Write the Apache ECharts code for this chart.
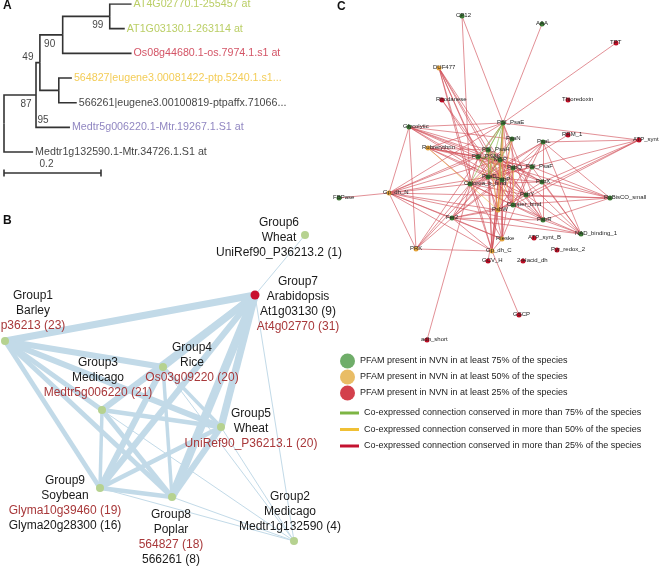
<!DOCTYPE html>
<html><head><meta charset="utf-8">
<script src="https://cdn.jsdelivr.net/npm/echarts@6.0.0/dist/echarts.min.js"></script>
<style>html,body{margin:0;padding:0;background:#fff}#c{width:662px;height:567px}</style>
</head><body><div id="c"></div>
<script>
// ---------- Panel A: phylogenetic tree (branch lengths) ----------
const treeNames = ['root','n87','Medtr1g132590.1-Mtr.34726.1.S1 at','n49','Medtr5g006220.1-Mtr.19267.1.S1 at','n90','nPop',
  '564827|eugene3.00081422-ptp.5240.1.s1...','566261|eugene3.00100819-ptpaffx.71066...','n99',
  'Os08g44680.1-os.7974.1.s1 at','AT4G02770.1-255457 at','AT1G03130.1-263114 at'];
const treeParent = [-1,0,0,1,1,3,3,6,6,5,5,9,9];
const treeBranch = [0,0.066,0.060,0.008,0.070,0.047,0.039,0.027,0.037,0.097,0.142,0.045,0.031];
const leafRow    = [null,null,6,null,5,null,null,3,4,null,2,0,1];
const bootNode   = [9,5,3,1,1];
const bootValue  = [99,90,49,87,95];
const scaleBarLength = 0.2;
const scaleBarLabel = '0.2';

// ---------- Panel B: group network ----------
const bNames   = ['Group1','Group2','Group3','Group4','Group5','Group6','Group7','Group8','Group9'];
const bSpecies = ['Barley','Medicago','Medicago','Rice','Wheat','Wheat','Arabidopsis','Poplar','Soybean'];
const bGenes = [
  [['p36213 (23)',1]],
  [['Medtr1g132590 (4)',0]],
  [['Medtr5g006220 (21)',1]],
  [['Os03g09220 (20)',1]],
  [['UniRef90_P36213.1 (20)',1]],
  [['UniRef90_P36213.2 (1)',0]],
  [['At1g03130 (9)',0],['At4g02770 (31)',1]],
  [['564827 (18)',1],['566261 (8)',0]],
  [['Glyma10g39460 (19)',1],['Glyma20g28300 (16)',0]]
];
const bQuery = [0,0,0,0,0,0,1,0,0];
const bPosX = [5,294,102,163,221,305,255,172,100];
const bPosY = [341,541,410,367,427,235,295,497,488];
const bLinks = [ // [group a, group b, strength]
  [1,7,6],[1,4,5],[1,3,4],[1,5,5],[1,9,4],[1,8,4],
  [7,4,6],[7,3,5],[7,5,6],[7,9,5],[7,8,7],[7,6,1],[7,2,1],
  [4,3,3],[4,5,3],[4,9,5],[4,8,3],
  [3,5,4],[3,9,3],[3,8,4],
  [5,9,4],[5,8,5],
  [9,8,4],
  [2,5,1],[2,8,1],[2,9,1],[2,3,1],[2,4,1]
];

// ---------- Panel C: PFAM network ----------
const cNames = ['CP12','AAA','TPT','DUF477','Rhodanese','Thioredoxin','PSI_PsaE','Glycolytic','RRM_1','ATP_synt',
  'Rubrerythrin','PsaN','PsaL','PSI_PsaH','PSI_PSAK','MSP','PsbQ','PSI_PsaF','PsaD','PsbP',
  'PsbX','Chloroa_b_bind','PsbY','RuBisCO_small','FBPase','Gp_dh_N','PsbW','Copper_bind','PsbR','Fer2',
  'NAD_binding_1','Rieske','ATP_synt_B','PRK','Gp_dh_C','Pyr_redox_2','GCV_H','2-Hacid_dh','GSCP','adh_short'];
const cX = [462,542,616,439,442,568,503,409,568,639, 428,512,543,488,478,500,513,532,488,502, 542,470,526,610,339,389,498,513,543,452, 581,502,534,416,492,557,488,523,519,427];
const cY = [16,24,43,68,100,100,123,127,135,140, 148,139,142,150,157,160,168,167,177,180, 182,184,195,198,198,193,210,205,220,218, 234,239,238,249,251,250,261,261,315,340];
const cClass = [0,0,2,1,2,2,0,0,2,2, 1,0,0,0,0,0,0,0,0,0, 0,0,0,0,0,1,1,0,0,0, 0,1,2,1,1,2,2,2,2,2]; // 0:>=75% 1:>=50% 2:>=25%
const cEdgesRed = [
  [0,6],[0,21],[1,6],[2,6],[3,13],[3,14],[3,15],[3,18],[3,19],[3,21],[3,34],[4,19],[4,27],
  [6,7],[6,9],[6,33],[6,25],
  [7,11],[7,13],[7,14],[7,15],[7,16],[7,18],[7,25],[7,33],[7,19],
  [8,16],
  [9,17],[9,20],[9,22],[9,27],[9,12],
  [10,6],[10,13],[10,14],[10,15],[10,16],[10,17],[10,18],[10,19],[10,21],
  [23,12],[23,17],[23,20],[23,22],[23,27],[23,28],[23,25],[23,16],
  [30,12],[30,17],[30,20],[30,22],[30,27],[30,28],[30,25],[30,29],[30,16],
  [24,25],
  [25,33],[25,29],[25,21],[25,26],[25,31],[25,34],[25,13],[25,14],[25,15],[25,18],
  [33,34],[33,29],[33,21],[33,15],
  [29,21],[29,18],[29,19],[29,26],[29,27],[29,28],[29,31],[29,34],[29,15],[29,16],
  [31,18],[31,19],[31,21],[31,15],[31,16],[31,17],[31,34],[31,6],
  [34,18],[34,19],[34,21],[34,15],[34,26],[34,6],[34,13],
  [38,34],[39,14],[36,19],
  [12,18],[12,19],[12,21],[12,26],[12,27],[12,28],
  [28,6],[28,13],[28,14],[28,15],[28,18],[28,21],
  [20,13],[20,14],[20,15],[20,18],[20,21],
  [22,13],[22,14],[22,18],[22,21],[22,6],
  [27,13],[27,14],[27,15],[27,21],[27,6],
  [17,13],[17,14],[17,18],[17,21],
  [16,13],[16,14],[16,21],[16,18],
  [26,6],[26,13],[26,14],[26,15],[26,20],[26,22],[26,28],
  [11,18],[11,19],[11,21],[11,27]
];
const cEdgesOrange = [[10,26],[6,26],[11,26],[13,26],[14,19],[15,26],[21,15],[6,19],[16,26],[13,19],[27,16]];
const cEdgesGreen  = [[6,15],[6,13],[6,14],[6,18],[11,15],[13,15],[14,15],[15,19],[15,18],[13,18],[6,21],[18,19]];
const legendNodeNames = ['PFAM present in NVN in at least 75% of the species','PFAM present in NVN in at least 50% of the species','PFAM present in NVN in at least 25% of the species'];
const legendEdgeNames = ['Co-expressed connection conserved in more than 75% of the species','Co-expressed connection conserved in more than 50% of the species','Co-expressed connection conserved in more than 25% of the species'];

// ---------- styles ----------
const FONT = 'Liberation Sans';
const leafColor = {2:'#111',4:'#7468b2',7:'#f0bf2c',8:'#111',10:'#c8283f',11:'#a9c23e',12:'#a9c23e'};
const bootOffset = [[-12,9],[-13,9],[-12,-5],[-10,9],[7,25]];
const bLabelOffset = [[28,-30],[-4,-29],[-4,-32],[29,-4],[30,2],[-26,3],[43,9],[-1,40],[-35,15.5]];
const cNodeColor = ['#3b7a34','#e3a33a','#c00d25'];
const cEdgeColor = ['#86b84c','#eab54e','#d2505a'];
const legNodeColor = ['#4b9944','#e4ad40','#c8101f'];
const legEdgeColor = ['#7db544','#f0c035','#c41230'];
const bWidth = s => 1 + (s - 1) * 1.25;

// ----- compute tree layout -----
const n = treeNames.length;
const tx = new Array(n), ty = new Array(n);
for (let i = 0; i < n; i++) tx[i] = i === 0 ? 0 : tx[treeParent[i]] + treeBranch[i];
for (let i = n - 1; i >= 0; i--) {
  if (leafRow[i] !== null) { ty[i] = leafRow[i]; continue; }
  const ch = []; for (let j = 0; j < n; j++) if (treeParent[j] === i) ch.push(ty[j]);
  ty[i] = (Math.min(...ch) + Math.max(...ch)) / 2;
}
const branchLines = [];
for (let i = 1; i < n; i++) {
  const p = treeParent[i];
  branchLines.push({coords: [[tx[p], ty[p]], [tx[p], ty[i]], [tx[i], ty[i]]]});
}
const scaleY = 6.85;
branchLines.push({coords: [[0, scaleY], [scaleBarLength, scaleY]]});
branchLines.push({coords: [[0, scaleY - 0.14], [0, scaleY + 0.14]]});
branchLines.push({coords: [[scaleBarLength, scaleY - 0.14], [scaleBarLength, scaleY + 0.14]]});

const leafData = [];
for (let i = 0; i < n; i++) if (leafRow[i] !== null)
  leafData.push({name: treeNames[i], value: [tx[i], ty[i]], label: {color: leafColor[i]}});
const bootData = bootNode.map((k, j) => ({name: String(bootValue[j]), value: [tx[k], ty[k]], label: {offset: bootOffset[j]}}));
bootData.push({name: scaleBarLabel, value: [scaleBarLength / 2, scaleY], label: {offset: [-6, -9]}});

// ----- panel B -----
const bNodes = bNames.map((g, i) => {
  let s = '{k|' + g + '}\n{k|' + bSpecies[i] + '}';
  bGenes[i].forEach(ge => { s += '\n{' + (ge[1] ? 'r' : 'k') + '|' + ge[0] + '}'; });
  return {
    name: g, value: [bPosX[i], bPosY[i]],
    symbolSize: bQuery[i] ? 9 : 8,
    itemStyle: {color: bQuery[i] ? '#c8102e' : '#b6d290'},
    label: {show: true, position: 'inside', offset: bLabelOffset[i], formatter: s, align: 'center'}
  };
});
const bLinkData = bLinks.map(l => ({source: l[0] - 1, target: l[1] - 1, value: l[2], lineStyle: {width: bWidth(l[2])}}));
const richB = {
  k: {color: '#1a1a1a', fontSize: 12, lineHeight: 15, fontFamily: FONT, align: 'center'},
  r: {color: '#a8383a', fontSize: 12, lineHeight: 15, fontFamily: FONT, align: 'center'}
};

// ----- panel C -----
const cNodes = cNames.map((nm, i) => ({name: nm, value: [cX[i], cY[i]], itemStyle: {color: cNodeColor[cClass[i]]}}));
const cLinks = [];
[[cEdgesRed, 2], [cEdgesOrange, 1], [cEdgesGreen, 0]].forEach(([arr, k]) =>
  arr.forEach(e => cLinks.push({source: e[0], target: e[1], lineStyle: {color: cEdgeColor[k]}})));

const option = {
  animation: false,
  backgroundColor: '#fff',
  title: [
    {text: 'A', left: 3, top: 0, padding: 0, textStyle: {fontSize: 12, fontWeight: 'bold', fontFamily: FONT, color: '#111'}},
    {text: 'B', left: 3, top: 215, padding: 0, textStyle: {fontSize: 12, fontWeight: 'bold', fontFamily: FONT, color: '#111'}},
    {text: 'C', left: 337, top: 1, padding: 0, textStyle: {fontSize: 12, fontWeight: 'bold', fontFamily: FONT, color: '#111'}}
  ],
  grid: [
    {left: 4, top: 4, width: 145.5, height: 172.7},
    {left: 0, top: 0, width: 662, height: 567}
  ],
  xAxis: [
    {gridIndex: 0, type: 'value', min: 0, max: 0.3, show: false},
    {gridIndex: 1, type: 'value', min: 0, max: 662, show: false}
  ],
  yAxis: [
    {gridIndex: 0, type: 'value', min: 0, max: 7, inverse: true, show: false},
    {gridIndex: 1, type: 'value', min: 0, max: 567, inverse: true, show: false}
  ],
  legend: [
    {data: legendNodeNames.map(nm => ({name: nm, icon: 'circle'})), orient: 'vertical', left: 340, top: 353.5,
     itemWidth: 15, itemHeight: 15, itemGap: 1, padding: 0, selectedMode: false,
     textStyle: {fontSize: 9, fontFamily: FONT, color: '#222'}},
    {data: legendEdgeNames.map(nm => ({name: nm, icon: 'rect'})), orient: 'vertical', left: 340, top: 407,
     itemWidth: 19, itemHeight: 3, itemGap: 4.5, padding: 0, selectedMode: false,
     textStyle: {fontSize: 9, fontFamily: FONT, color: '#222', lineHeight: 12}}
  ],
  series: [
    {type: 'lines', coordinateSystem: 'cartesian2d', xAxisIndex: 0, yAxisIndex: 0, polyline: true, silent: true,
     lineStyle: {color: '#333', width: 1.6, opacity: 1}, data: branchLines},
    {type: 'scatter', xAxisIndex: 0, yAxisIndex: 0, symbolSize: 0, silent: true, data: leafData,
     label: {show: true, position: 'right', distance: 2, formatter: '{b}', fontSize: 10.7, fontFamily: FONT}},
    {type: 'scatter', xAxisIndex: 0, yAxisIndex: 0, symbolSize: 0, silent: true, data: bootData,
     label: {show: true, position: 'inside', formatter: '{b}', fontSize: 10, fontFamily: FONT, color: '#111'}},
    {type: 'graph', coordinateSystem: 'cartesian2d', xAxisIndex: 1, yAxisIndex: 1, silent: true,
     symbol: 'circle', data: bNodes, links: bLinkData, edgeSymbol: ['none', 'none'],
     lineStyle: {color: '#c2dae8', opacity: 1, curveness: 0},
     label: {show: true, rich: richB}, emphasis: {disabled: true}},
    {type: 'graph', coordinateSystem: 'cartesian2d', xAxisIndex: 1, yAxisIndex: 1, silent: true,
     symbol: 'circle', symbolSize: 5, data: cNodes, links: cLinks, edgeSymbol: ['none', 'none'],
     lineStyle: {width: 0.8, opacity: 0.8, curveness: 0},
     label: {show: true, position: 'inside', align: 'left', offset: [-6, -1], formatter: '{b}', fontSize: 6, fontFamily: FONT, color: '#222'},
     emphasis: {disabled: true}},
    {type: 'scatter', name: legendNodeNames[0], data: [], xAxisIndex: 1, yAxisIndex: 1, color: legNodeColor[0]},
    {type: 'scatter', name: legendNodeNames[1], data: [], xAxisIndex: 1, yAxisIndex: 1, color: legNodeColor[1]},
    {type: 'scatter', name: legendNodeNames[2], data: [], xAxisIndex: 1, yAxisIndex: 1, color: legNodeColor[2]},
    {type: 'line', name: legendEdgeNames[0], data: [], xAxisIndex: 1, yAxisIndex: 1, color: legEdgeColor[0]},
    {type: 'line', name: legendEdgeNames[1], data: [], xAxisIndex: 1, yAxisIndex: 1, color: legEdgeColor[1]},
    {type: 'line', name: legendEdgeNames[2], data: [], xAxisIndex: 1, yAxisIndex: 1, color: legEdgeColor[2]}
  ]
};
const chart = echarts.init(document.getElementById('c'), null, {renderer: 'canvas'});
chart.setOption(option);
</script></body></html>
